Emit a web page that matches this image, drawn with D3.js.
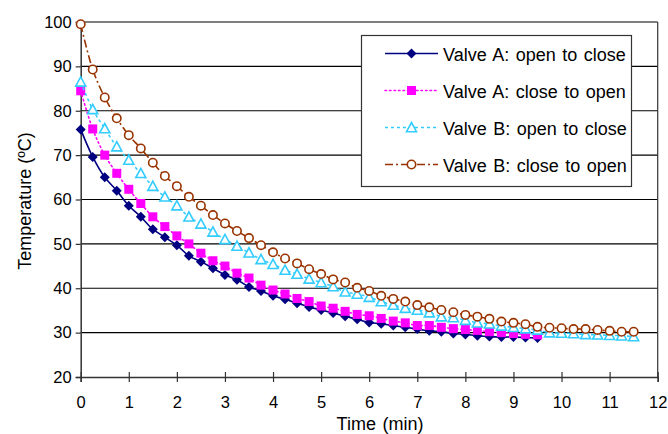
<!DOCTYPE html>
<html lang="en">
<head>
<meta charset="utf-8">
<title>Valve temperature</title>
<style>
  body { margin: 0; background: #fff; }
  svg text { font-family: "Liberation Sans", Arial, sans-serif; fill: #000; }
</style>
</head>
<body>
<div id="chart"></div>
<script src="https://d3js.org/d3.v7.min.js"></script>
<script>
// time step is 0.25 min for every series
var step = 0.25;

var valveAOpenClose = [75.8, 69.6, 65.0, 62.0, 58.6, 56.1, 53.3, 51.5, 49.7, 47.3, 46.0, 44.5, 43.0, 41.9, 40.3, 39.4,
  38.3, 37.5, 36.6, 35.8, 35.1, 34.4, 33.7, 33.0, 32.3, 32.0, 31.6, 31.2, 30.8, 30.4, 30.2, 29.8,
  29.6, 29.3, 29.1, 29.0, 29.0, 28.9, 28.8];
var valveACloseOpen = [84.5, 75.9, 70.0, 65.9, 62.3, 59.1, 56.1, 53.9, 51.8, 50.0, 47.9, 46.2, 45.0, 43.4, 42.3, 40.7,
  39.6, 38.7, 37.7, 37.0, 36.0, 35.5, 34.8, 34.1, 33.8, 33.2, 32.6, 32.2, 31.6, 31.6, 31.2, 30.9,
  30.7, 30.5, 30.2, 30.0, 29.8, 29.6, 29.5];
var valveBOpenClose = [86.5, 80.3, 76.0, 71.9, 68.9, 65.9, 63.0, 60.6, 58.6, 56.1, 54.5, 52.7, 51.0, 49.5, 48.0, 46.5,
  45.4, 44.1, 43.2, 42.1, 41.3, 40.4, 39.2, 38.7, 38.0, 37.0, 36.2, 35.5, 35.1, 34.5, 33.6, 33.4,
  32.8, 32.2, 32.0, 31.5, 31.2, 30.9, 30.6, 30.0, 29.9, 29.8, 29.6, 29.5, 29.4, 29.3, 29.1];
var valveBCloseOpen = [99.5, 89.3, 83.0, 78.3, 74.5, 71.5, 68.3, 65.3, 63.0, 60.6, 58.6, 56.5, 54.6, 52.9, 51.3, 49.7,
  48.1, 46.7, 45.6, 44.3, 43.2, 42.0, 41.3, 40.1, 39.4, 38.3, 37.6, 37.0, 36.2, 35.7, 35.1, 34.6,
  34.0, 33.6, 33.1, 32.5, 32.2, 31.9, 31.3, 31.1, 31.0, 30.8, 30.8, 30.6, 30.4, 30.2, 30.2];

var seriesNames = ["Valve A: open to close", "Valve A: close to open", "Valve B: open to close", "Valve B: close to open"];
var xTicks = [0, 1, 2, 3, 4, 5, 6, 7, 8, 9, 10, 11, 12];
var yTicks = [20, 30, 40, 50, 60, 70, 80, 90, 100];

var series = [
  { name: seriesNames[0], values: valveAOpenClose, color: "#000080", dash: null, marker: "diamond" },
  { name: seriesNames[1], values: valveACloseOpen, color: "#ff00ff", dash: "1.5,3", marker: "square" },
  { name: seriesNames[2], values: valveBOpenClose, color: "#33ccff", dash: "3,3", marker: "triangle" },
  { name: seriesNames[3], values: valveBCloseOpen, color: "#993300", dash: "8,3,2,3", marker: "circle" }
];

var width = 668, height = 434;
var plotLeft = 80.7, plotRight = 657.7, plotTop = 22, plotBottom = 377;

var svg = d3.select("#chart").append("svg")
  .attr("width", width)
  .attr("height", height);

var x = d3.scaleLinear().domain([0, 12]).range([plotLeft, plotRight]);
var y = d3.scaleLinear().domain([20, 100]).range([plotBottom, plotTop]);

// gridlines
svg.append("g")
  .selectAll("line")
  .data(yTicks.filter(function(d) { return d > 20; }))
  .enter()
  .append("line")
    .attr("x1", plotLeft)
    .attr("x2", plotRight)
    .attr("y1", function(d) { return y(d); })
    .attr("y2", function(d) { return y(d); })
    .attr("stroke", "#000")
    .attr("stroke-width", 1.2);

// right frame
svg.append("line")
  .attr("x1", plotRight).attr("x2", plotRight)
  .attr("y1", plotTop).attr("y2", plotBottom)
  .attr("stroke", "#333").attr("stroke-width", 1.2);

// y axis
var yAxis = svg.append("g")
  .attr("transform", "translate(" + plotLeft + ",0)")
  .call(d3.axisLeft(y).tickValues(yTicks).tickSize(5).tickPadding(4));
yAxis.select(".domain").attr("stroke", "#333").attr("stroke-width", 1.5);
yAxis.selectAll(".tick line").attr("stroke", "#333").attr("stroke-width", 1.2);
yAxis.selectAll("text").style("font-size", "16.5px").attr("fill", "#000");

// x axis (ticks cross the axis line)
var xAxis = svg.append("g")
  .attr("transform", "translate(0," + plotBottom + ")")
  .call(d3.axisBottom(x).tickValues(xTicks).tickSize(5).tickPadding(14));
xAxis.select(".domain").attr("stroke", "#333").attr("stroke-width", 1.5);
xAxis.selectAll(".tick line").attr("y1", -5).attr("stroke", "#333").attr("stroke-width", 1.2);
xAxis.selectAll("text").style("font-size", "16.5px").attr("fill", "#000");

// axis titles
svg.append("text")
  .attr("x", 380)
  .attr("y", 430)
  .attr("text-anchor", "middle")
  .style("font-size", "18px")
  .style("word-spacing", "1.5px")
  .text("Time (min)");

svg.append("text")
  .attr("transform", "translate(31,201) rotate(-90)")
  .attr("text-anchor", "middle")
  .style("font-size", "18px")
  .text("Temperature (ºC)");

function drawMarker(g, kind, color) {
  if (kind === "diamond") {
    g.append("path").attr("d", "M0,-5L5,0L0,5L-5,0Z").attr("fill", color);
  } else if (kind === "square") {
    g.append("rect").attr("x", -4.5).attr("y", -4.5).attr("width", 9).attr("height", 9).attr("fill", color);
  } else if (kind === "triangle") {
    g.append("path").attr("d", "M0,-5L5,4.2L-5,4.2Z")
      .attr("fill", "#fff").attr("stroke", color).attr("stroke-width", 1.6);
  } else {
    g.append("circle").attr("r", 4.2)
      .attr("fill", "#fff").attr("stroke", color).attr("stroke-width", 1.6);
  }
}

var line = d3.line()
  .x(function(d, i) { return x(i * step); })
  .y(function(d) { return y(d); })
  .curve(d3.curveCatmullRom.alpha(0.5));

series.forEach(function(s) {
  var g = svg.append("g");
  g.append("path")
    .datum(s.values)
    .attr("d", line)
    .attr("fill", "none")
    .attr("stroke", s.color)
    .attr("stroke-width", 1.6)
    .attr("stroke-linecap", s.dash === "1.5,3" ? "round" : "butt")
    .attr("stroke-dasharray", s.dash);
  s.values.forEach(function(v, i) {
    var m = g.append("g").attr("transform", "translate(" + x(i * step) + "," + y(v) + ")");
    drawMarker(m, s.marker, s.color);
  });
});

// legend
var legend = svg.append("g");
legend.append("rect")
  .attr("x", 361.5).attr("y", 35.5)
  .attr("width", 270).attr("height", 151)
  .attr("fill", "#fff")
  .attr("stroke", "#333")
  .attr("stroke-width", 1.2);

series.forEach(function(s, i) {
  var cy = 53.5 + i * 37;
  var row = legend.append("g");
  row.append("line")
    .attr("x1", 385).attr("x2", 438)
    .attr("y1", cy).attr("y2", cy)
    .attr("stroke", s.color)
    .attr("stroke-width", 1.6)
    .attr("stroke-linecap", s.dash === "1.5,3" ? "round" : "butt")
    .attr("stroke-dasharray", s.dash);
  var m = row.append("g").attr("transform", "translate(411.5," + cy + ")");
  drawMarker(m, s.marker, s.color);
  row.append("text")
    .attr("x", 443)
    .attr("y", cy + 7)
    .style("font-size", "18px")
    .style("word-spacing", "1.5px")
    .text(s.name);
});
</script>
</body>
</html>
